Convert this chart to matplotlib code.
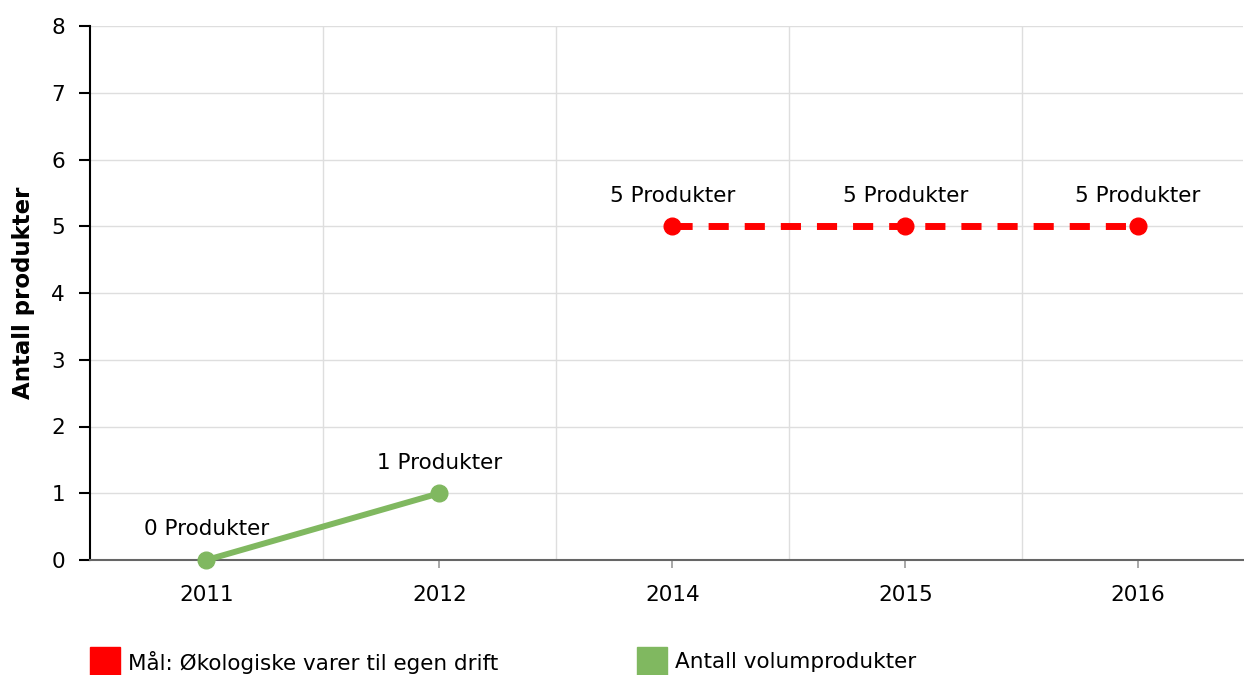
import matplotlib.pyplot as plt
from matplotlib.patches import Rectangle

# categories on the x axis
years = ["2011", "2012", "2014", "2015", "2016"]

# green series: Antall volumprodukter (only first two years)
volum_idx = [0, 1]
volum_vals = [0, 1]

# red series: target
maal_idx = [2, 3, 4]
maal_vals = [5, 5, 5]

RED = "#ff0000"
GREEN = "#80b860"
FS = 15.5

plt.rcParams['font.family'] = ['DejaVu Sans']

fig = plt.figure(figsize=(12.44, 6.75), dpi=100)
ax = fig.add_axes([90 / 1244, 115 / 675, 1153 / 1244, 534 / 675])

# line series
ax.plot(volum_idx, volum_vals, color=GREEN, lw=4.3, marker='o', ms=12,
        solid_capstyle='butt', zorder=3, clip_on=False)
ax.plot(maal_idx, maal_vals, color=RED, lw=5, ls=(0, (2.9, 2.3)), marker='o',
        ms=12, zorder=3, clip_on=False)

# point labels
for i, v in zip(volum_idx, volum_vals):
    ax.annotate(f"{v} Produkter", (i, v), xytext=(0, 22), textcoords='offset points',
                ha='center', va='center', fontsize=FS, color='black')
for i, v in zip(maal_idx, maal_vals):
    ax.annotate(f"{v} Produkter", (i, v), xytext=(0, 22), textcoords='offset points',
                ha='center', va='center', fontsize=FS, color='black')

ax.set_xlim(-0.5, 4.45)
ax.set_ylim(0, 8)
ax.set_xticks(range(len(years)))
ax.set_xticklabels(years)
ax.set_yticks(range(0, 9))

# grid: horizontal at each value, vertical between categories
for y in range(1, 9):
    ax.axhline(y, color='#dedede', lw=1, zorder=0)
for xb in [0.5, 1.5, 2.5, 3.5]:
    ax.axvline(xb, color='#dedede', lw=1, zorder=0)

for s in ['top', 'right']:
    ax.spines[s].set_visible(False)
ax.spines['left'].set_color('black')
ax.spines['left'].set_linewidth(1.5)
ax.spines['bottom'].set_color('#666666')
ax.spines['bottom'].set_linewidth(1.5)

ax.tick_params(axis='y', length=8, width=1.5, color='black', labelsize=FS, pad=10)
ax.tick_params(axis='x', length=6, width=1.2, color='#999999', labelsize=FS, pad=12)

ax.set_ylabel("Antall produkter", fontsize=16.5, fontweight='bold', labelpad=12)

# legend at the bottom
legend_items = [("Mål: Økologiske varer til egen drift", RED, 90),
                ("Antall volumprodukter", GREEN, 637)]
for label, col, xpix in legend_items:
    fig.add_artist(Rectangle((xpix / 1244, 0), 30 / 1244, 28 / 675,
                             transform=fig.transFigure, color=col))
    fig.text((xpix + 38) / 1244, 13 / 675, label, fontsize=FS, va='center', ha='left')

fig.savefig("out.png", dpi=100)
